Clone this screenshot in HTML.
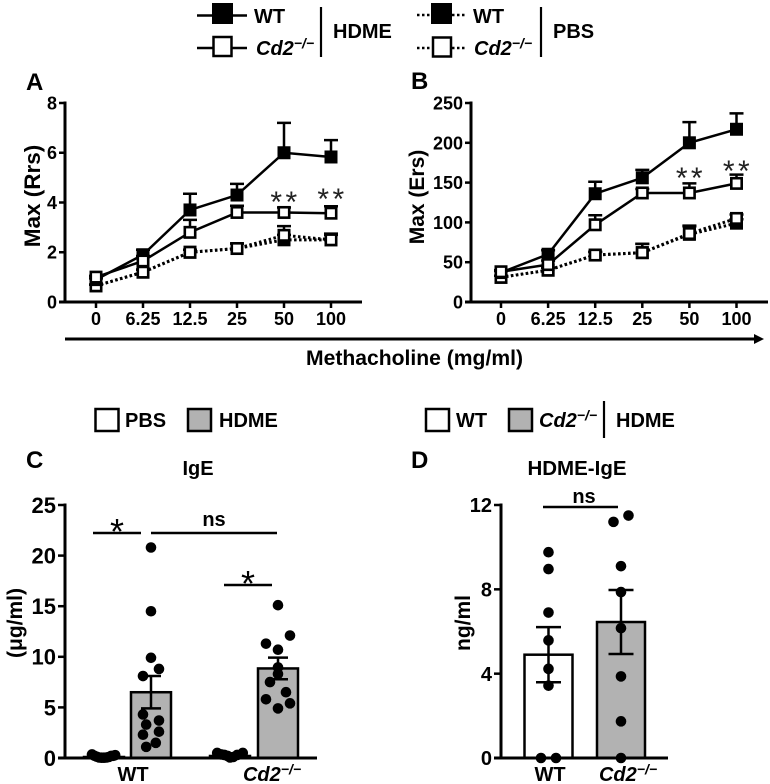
<!DOCTYPE html>
<html lang="en">
<head>
<meta charset="utf-8">
<title>Airway responsiveness and IgE charts</title>
<style>
html,body{margin:0;padding:0;background:#fff;width:770px;height:784px;overflow:hidden}
svg{display:block}
text{font-family:"Liberation Sans",Arial,sans-serif;font-weight:bold;fill:#000}
</style>
</head>
<body>
<svg id="fig" width="770" height="784" viewBox="0 0 770 784" xmlns="http://www.w3.org/2000/svg">
  <g>
    <line x1="197" x2="247" y1="15.5" y2="15.5" stroke="#000" stroke-width="2.5"/>
    <rect x="212" y="3" width="21" height="21" fill="#000"/>
    <text x="254" y="23" font-size="20">WT</text>
    <line x1="197" x2="247" y1="48" y2="48" stroke="#000" stroke-width="2.5"/>
    <rect x="213.5" y="37" width="18" height="19" fill="#fff" stroke="#000" stroke-width="2.5"/>
    <text x="256" y="55" font-size="20" font-style="italic">Cd2<tspan dy="-7" font-size="14">−/−</tspan></text>
    <line x1="321" x2="321" y1="7" y2="57" stroke="#000" stroke-width="2.2"/>
    <text x="333" y="38" font-size="20">HDME</text>
  </g>
  <g>
    <line x1="417" x2="465" y1="15" y2="15" stroke="#000" stroke-width="2.5" stroke-dasharray="2.5 2.5"/>
    <rect x="431" y="3" width="21" height="21" fill="#000"/>
    <text x="473" y="23" font-size="20">WT</text>
    <line x1="417" x2="465" y1="48" y2="48" stroke="#000" stroke-width="2.5" stroke-dasharray="2.5 2.5"/>
    <rect x="433" y="37.5" width="18" height="19" fill="#fff" stroke="#000" stroke-width="2.5"/>
    <text x="474" y="55" font-size="20" font-style="italic">Cd2<tspan dy="-7" font-size="14">−/−</tspan></text>
    <line x1="541" x2="541" y1="7" y2="57" stroke="#000" stroke-width="2.2"/>
    <text x="553" y="38" font-size="20">PBS</text>
  </g>
  <text x="26" y="90" font-size="24">A</text>
  <text x="411" y="89" font-size="24">B</text>
  <text x="26" y="468" font-size="24">C</text>
  <text x="411" y="468" font-size="24">D</text>
  <line x1="65" x2="756" y1="339" y2="339" stroke="#000" stroke-width="3"/>
  <polygon points="754,334 764,339 754,344" fill="#000"/>
  <text x="414.5" y="365" font-size="21" text-anchor="middle" textLength="217" lengthAdjust="spacingAndGlyphs">Methacholine (mg/ml)</text>
  <g>
    <rect x="95.5" y="409" width="23" height="22" fill="#fff" stroke="#000" stroke-width="2.5"/>
    <text x="125" y="427" font-size="20">PBS</text>
    <rect x="188" y="409" width="23" height="22" fill="#b2b2b2" stroke="#000" stroke-width="2.5"/>
    <text x="219" y="427" font-size="20">HDME</text>
  </g>
  <g>
    <rect x="426" y="409" width="23" height="22" fill="#fff" stroke="#000" stroke-width="2.5"/>
    <text x="456" y="427" font-size="20">WT</text>
    <rect x="509" y="409" width="23" height="22" fill="#b2b2b2" stroke="#000" stroke-width="2.5"/>
    <text x="539" y="427" font-size="20" font-style="italic">Cd2<tspan dy="-7" font-size="14">−/−</tspan></text>
    <line x1="604" x2="604" y1="401" y2="438" stroke="#000" stroke-width="2.2"/>
    <text x="616" y="427" font-size="20">HDME</text>
  </g>
  <text x="198" y="475" font-size="20" text-anchor="middle">IgE</text>
  <text x="577" y="475" font-size="20.5" text-anchor="middle">HDME-IgE</text>
  <text transform="translate(40,196) rotate(-90)" font-size="22.5" text-anchor="middle">Max (Rrs)</text>
  <text transform="translate(424,197) rotate(-90)" font-size="21" text-anchor="middle">Max (Ers)</text>
  <text transform="translate(22,623) rotate(-90)" font-size="21" text-anchor="middle">(μg/ml)</text>
  <text transform="translate(470,623) rotate(-90)" font-size="21" text-anchor="middle">ng/ml</text>
  <g>
    <line x1="93" x2="141" y1="533" y2="533" stroke="#000" stroke-width="2.5"/>
    <text x="117" y="544" font-size="36" text-anchor="middle" style="font-weight:normal">*</text>
    <line x1="151" x2="277" y1="533" y2="533" stroke="#000" stroke-width="2.5"/>
    <text x="214" y="526" font-size="20" text-anchor="middle">ns</text>
    <line x1="224" x2="272" y1="585" y2="585" stroke="#000" stroke-width="2.5"/>
    <text x="248" y="596" font-size="36" text-anchor="middle" style="font-weight:normal">*</text>
  </g>
  <g>
    <line x1="543" x2="618" y1="507" y2="507" stroke="#000" stroke-width="2.5"/>
    <text x="584" y="503" font-size="20" text-anchor="middle">ns</text>
  </g>
</svg>
<script>
// Panels A and B: dose-response values
const doses = ['0', '6.25', '12.5', '25', '50', '100'];
const rrsTicks = [0, 2, 4, 6, 8];
const rrsWtHdme = [0.9, 1.9, 3.7, 4.3, 6.0, 5.83];
const rrsWtHdmeErr = [0.05, 0.2, 0.65, 0.45, 1.2, 0.68];
const rrsCd2Hdme = [1.0, 1.65, 2.8, 3.6, 3.6, 3.57];
const rrsCd2HdmeErr = [0.05, 0.2, 0.5, 0.27, 0.2, 0.28];
const rrsWtPbs = [0.65, 1.2, 2.0, 2.15, 2.5, 2.5];
const rrsWtPbsErr = [0.05, 0.1, 0.1, 0.2, 0.2, 0.2];
const rrsCd2Pbs = [0.65, 1.2, 2.0, 2.15, 2.68, 2.5];
const rrsCd2PbsErr = [0.05, 0.1, 0.1, 0.2, 0.37, 0.25];
const ersTicks = [0, 50, 100, 150, 200, 250];
const ersWtHdme = [37, 60, 136, 156, 200, 217];
const ersWtHdmeErr = [2, 5, 15, 10, 26, 20];
const ersCd2Hdme = [38, 47, 97, 137, 137, 149];
const ersCd2HdmeErr = [2, 5, 12, 5, 12, 11];
const ersWtPbs = [31, 40, 59, 62, 85, 99];
const ersWtPbsErr = [2, 3, 4, 11, 10, 5];
const ersCd2Pbs = [31, 40, 59, 62, 86, 105];
const ersCd2PbsErr = [2, 3, 4, 11, 10, 5];

// Panel C: IgE values
const igeTicks = [0, 5, 10, 15, 20, 25];
const igeMeans = [0.1, 6.5, 0.2, 8.85];
const igeSem = [0, 1.6, 0, 1.07];
const igeFills = ['white', 'gray', 'white', 'gray'];
const igeWtPbs = [0.35, 0.22, 0.12, 0.05, 0.03, 0.03, 0.05, 0.1, 0.2, 0.22, 0.28];
const igeWtPbsSpread = [-1.5, -1.2, -0.9, -0.6, -0.3, 0, 0.3, 0.6, 0.9, 1.2, 1.4];
const igeWtHdme = [20.8, 14.5, 9.9, 8.8, 8.1, 4.3, 3.7, 3.3, 2.3, 2.6, 1.5, 1.1];
const igeWtHdmeSpread = [0, 0, 0, 1, -1, -1, 1, -0.6, -1, 1, 0.6, -0.6];
const igeCd2Pbs = [0.5, 0.35, 0.3, 0.2, 0.05, 0.1, 0.3, 0.5];
const igeCd2PbsSpread = [-1.6, -1.1, -0.7, -0.3, 0, 0.4, 0.9, 1.6];
const igeCd2Hdme = [15.1, 12.1, 11.3, 10.7, 8.95, 8.3, 7.5, 6.5, 5.8, 5.4, 4.9];
const igeCd2HdmeSpread = [0, 1.5, -1.5, 0, 0, 0, -1, 1, -1.5, 1.5, 0];

// Panel D: HDME-IgE values
const hdmeTicks = [0, 4, 8, 12];
const hdmeMeans = [4.9, 6.45];
const hdmeSem = [1.31, 1.52];
const hdmeFills = ['white', 'gray'];
const hdmeWt = [9.76, 8.96, 6.9, 5.58, 4.23, 3.43, 0, 0];
const hdmeWtSpread = [0, 0, 0, 0, 0, 0, -1, 1];
const hdmeCd2 = [11.2, 11.5, 9.1, 7.87, 6.16, 3.87, 1.74, 0];
const hdmeCd2Spread = [-1, 1, 0, 0, 0, 0, 0, 0];

const NS = 'http://www.w3.org/2000/svg';
const svg = document.getElementById('fig');
function mk(tag, attrs, parent) {
  const el = document.createElementNS(NS, tag);
  for (const k in attrs) el.setAttribute(k, attrs[k]);
  parent.appendChild(el);
  return el;
}
const colorMap = { white: '#fff', gray: '#b2b2b2' };

function drawAxes(name, o, parent) {
  const axisY = mk('line', { x1: o.x0, x2: o.x0, y1: o.y(o.ticks[o.ticks.length - 1]) - 1.5, y2: o.y(0) + 1.5, stroke: '#000', 'stroke-width': 3 }, parent);
  
  
  const axisX = mk('line', { x1: o.x0 - o.tick, x2: o.xEnd, y1: o.y(0), y2: o.y(0), stroke: '#000', 'stroke-width': 3 }, parent);
  
  
  o.ticks.forEach(function (t) {
    const tk = mk('line', { x1: o.x0 - o.tick, x2: o.x0, y1: o.y(t), y2: o.y(t), stroke: '#000', 'stroke-width': 2.5 }, parent);
    
    
    const lb = mk('text', { x: o.x0 - o.tick - 2, y: o.y(t) + o.fs * 0.36, 'font-size': o.fs, 'text-anchor': 'end' }, parent);
    lb.textContent = t;
    
    
  });
}

function lineChart(name, o) {
  const g = mk('g', {}, svg);
  
  
  const y = function (v) { return o.y0 - v * (o.y0 - o.yTop) / o.max; };
  const x = function (i) { return o.xFirst + i * o.step; };
  drawAxes(name, { x0: o.x0, xEnd: o.xEnd, y: y, ticks: o.ticks, tick: 6, fs: 18 }, g);
  doses.forEach(function (d, i) {
    const tk = mk('line', { x1: x(i), x2: x(i), y1: o.y0, y2: o.y0 + 6, stroke: '#000', 'stroke-width': 2.5 }, g);
    
    
    const lb = mk('text', { x: x(i), y: 325, 'font-size': 18, 'text-anchor': 'middle' }, g);
    lb.textContent = d;
    
    
  });
  o.series.forEach(function (s) {
    const sg = mk('g', {}, g);
    
    
    s.values.forEach(function (v, i) {
      const top = y(v + s.err[i]);
      const eb = mk('path', { d: 'M' + x(i) + ' ' + y(v) + 'V' + top + 'M' + (x(i) - 7) + ' ' + top + 'H' + (x(i) + 7), stroke: '#000', 'stroke-width': 2.5, fill: 'none' }, sg);
      
      
    });
    const pts = s.values.map(function (v, i) { return x(i) + ',' + y(v); }).join(' ');
    const attrs = { points: pts, fill: 'none', stroke: '#000', 'stroke-width': s.dotted ? 3 : 2.5 };
    if (s.dotted) attrs['stroke-dasharray'] = '2.5 2.5';
    const pl = mk('polyline', attrs, sg);
    
    
    s.values.forEach(function (v, i) {
      const m = s.filled
        ? mk('rect', { x: x(i) - 6.5, y: y(v) - 6.5, width: 13, height: 13, fill: '#000' }, sg)
        : mk('rect', { x: x(i) - 5.2, y: y(v) - 5.2, width: 10.4, height: 10.4, fill: '#fff', stroke: '#000', 'stroke-width': 2.6 }, sg);
      
      
    });
  });
  o.stars.forEach(function (st) {
    const t = mk('text', { x: x(st.i) + 1.5, y: st.py, 'font-size': 30, 'text-anchor': 'middle', 'letter-spacing': '3.4', style: 'font-weight:normal;fill:#222' }, g);
    t.textContent = '**';
    
    
  });
}

function barChart(name, o) {
  const g = mk('g', {}, svg);
  
  
  const y = function (v) { return o.y0 - v * (o.y0 - o.yTop) / o.max; };
  o.bars.forEach(function (b, i) {
    const r = mk('rect', { x: b.cx - o.w / 2, y: y(o.means[i]), width: o.w, height: o.y0 - y(o.means[i]), fill: colorMap[o.fills[i]], stroke: '#000', 'stroke-width': 2.5 }, g);
    
    
  });
  o.bars.forEach(function (b) {
    b.values.forEach(function (v, j) {
      const d = mk('circle', { cx: b.cx + b.spread[j] * o.unit, cy: y(v), r: 5.3, fill: '#000' }, g);
      
      
    });
  });
  o.bars.forEach(function (b, i) {
    if (!o.sem[i]) return;
    const hi = y(o.means[i] + o.sem[i]);
    const lo = y(o.means[i] - o.sem[i]);
    const e = mk('path', { d: 'M' + b.cx + ' ' + hi + 'V' + lo + 'M' + (b.cx - o.cap) + ' ' + hi + 'H' + (b.cx + o.cap) + 'M' + (b.cx - o.cap) + ' ' + lo + 'H' + (b.cx + o.cap), stroke: '#000', 'stroke-width': 2.5, fill: 'none' }, g);
    
    
  });
  drawAxes(name, { x0: o.x0, xEnd: o.xEnd, y: y, ticks: o.ticks, tick: 7, fs: o.fs }, g);
  o.labels.forEach(function (l) {
    const t = mk('text', { x: l.x, y: 781, 'font-size': 20, 'text-anchor': 'middle' }, g);
    
    
    if (l.italic) {
      t.setAttribute('font-style', 'italic');
      t.textContent = 'Cd2';
      const sup = mk('tspan', { dy: -7, 'font-size': 14 }, t);
      sup.textContent = '−/−';
    } else {
      t.textContent = 'WT';
    }
  });
}

lineChart('chart-a', {
  x0: 65, xEnd: 362, y0: 302, yTop: 103, max: 8, xFirst: 96, step: 47, ticks: rrsTicks,
  series: [
    { name: 'wt-pbs', values: rrsWtPbs, err: rrsWtPbsErr, dotted: true, filled: true },
    { name: 'cd2-pbs', values: rrsCd2Pbs, err: rrsCd2PbsErr, dotted: true, filled: false },
    { name: 'wt-hdme', values: rrsWtHdme, err: rrsWtHdmeErr, dotted: false, filled: true },
    { name: 'cd2-hdme', values: rrsCd2Hdme, err: rrsCd2HdmeErr, dotted: false, filled: false }
  ],
  stars: [{ i: 4, py: 212 }, { i: 5, py: 209 }]
});
lineChart('chart-b', {
  x0: 471, xEnd: 768, y0: 302, yTop: 103, max: 250, xFirst: 501, step: 47.1, ticks: ersTicks,
  series: [
    { name: 'wt-pbs', values: ersWtPbs, err: ersWtPbsErr, dotted: true, filled: true },
    { name: 'cd2-pbs', values: ersCd2Pbs, err: ersCd2PbsErr, dotted: true, filled: false },
    { name: 'wt-hdme', values: ersWtHdme, err: ersWtHdmeErr, dotted: false, filled: true },
    { name: 'cd2-hdme', values: ersCd2Hdme, err: ersCd2HdmeErr, dotted: false, filled: false }
  ],
  stars: [{ i: 4, py: 188 }, { i: 5, py: 181 }]
});
barChart('chart-c', {
  x0: 65, xEnd: 317, y0: 758, yTop: 505, max: 25, ticks: igeTicks, fs: 22, w: 40, cap: 10, unit: 8,
  means: igeMeans, sem: igeSem, fills: igeFills,
  bars: [
    { cx: 104, values: igeWtPbs, spread: igeWtPbsSpread },
    { cx: 151, values: igeWtHdme, spread: igeWtHdmeSpread },
    { cx: 230, values: igeCd2Pbs, spread: igeCd2PbsSpread },
    { cx: 278, values: igeCd2Hdme, spread: igeCd2HdmeSpread }
  ],
  labels: [{ x: 133, italic: false }, { x: 272, italic: true }]
});
barChart('chart-d', {
  x0: 501, xEnd: 668, y0: 758, yTop: 505, max: 12, ticks: hdmeTicks, fs: 20, w: 48, cap: 12.5, unit: 7.5,
  means: hdmeMeans, sem: hdmeSem, fills: hdmeFills,
  bars: [
    { cx: 548.5, values: hdmeWt, spread: hdmeWtSpread },
    { cx: 621, values: hdmeCd2, spread: hdmeCd2Spread }
  ],
  labels: [{ x: 550, italic: false }, { x: 628, italic: true }]
});
</script>
</body>
</html>
